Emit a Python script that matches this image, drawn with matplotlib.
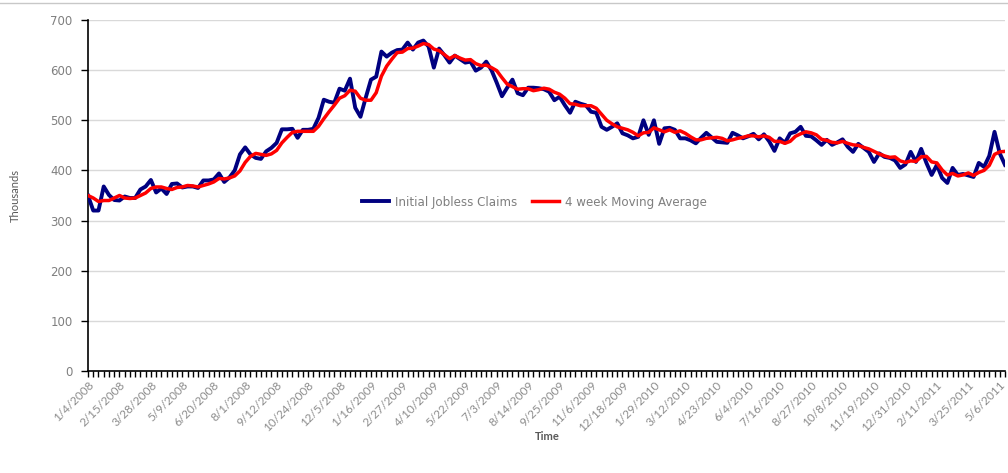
import matplotlib
matplotlib.use("Agg")
import matplotlib.pyplot as plt
import matplotlib.transforms as mtransforms
from matplotlib.ticker import MultipleLocator, FixedLocator
from matplotlib.lines import Line2D

tick_labels = ["1/4/2008", "2/15/2008", "3/28/2008", "5/9/2008", "6/20/2008", "8/1/2008",
               "9/12/2008", "10/24/2008", "12/5/2008", "1/16/2009", "2/27/2009", "4/10/2009",
               "5/22/2009", "7/3/2009", "8/14/2009", "9/25/2009", "11/6/2009", "12/18/2009",
               "1/29/2010", "3/12/2010", "4/23/2010", "6/4/2010", "7/16/2010", "8/27/2010",
               "10/8/2010", "11/19/2010", "12/31/2010", "2/11/2011", "3/25/2011", "5/6/2011"]

claims = [350, 320, 320, 368, 351, 341, 340, 348, 345, 345,
          362, 368, 381, 356, 364, 353, 373, 374, 366, 368,
          368, 365, 380, 380, 382, 394, 377, 386, 400, 432,
          446, 432, 425, 423, 438, 445, 455, 482, 482, 483,
          465, 481, 481, 483, 505, 541, 537, 535, 563, 559,
          583, 525, 507, 545, 581, 587, 637, 627, 635, 640,
          641, 655, 641, 655, 659, 647, 605, 643, 630, 615,
          629, 622, 615, 617, 599, 605, 617, 600, 575, 548,
          565, 581, 554, 550, 565, 565, 564, 562, 557, 540,
          547, 530, 515, 537, 533, 530, 517, 515, 487, 481,
          487, 494, 474, 470, 464, 467, 500, 471, 500, 453,
          484, 485, 481, 464, 464, 460, 454, 465, 475, 466,
          457, 456, 455, 475, 470, 464, 468, 473, 462, 472,
          458, 439, 464, 455, 474, 477, 487, 469, 468, 460,
          451, 461, 451, 456, 462, 447, 437, 453, 445, 437,
          417, 434, 427, 425, 420, 405, 412, 437, 417, 443,
          415, 391, 411, 385, 375, 405, 391, 393, 390, 387,
          415, 407, 429, 477, 434, 411]

moving_avg = [350, 345, 338, 340, 340, 345, 350, 345, 344, 345,
              350, 355, 364, 367, 367, 364, 362, 366, 367, 370,
              369, 367, 370, 373, 377, 384, 383, 385, 389, 399,
              416, 428, 434, 432, 430, 433, 440, 455, 466, 476,
              478, 478, 478, 478, 488, 503, 517, 530, 544, 549,
              560, 558, 544, 540, 540, 555, 588, 608, 622, 635,
              636, 643, 644, 648, 653, 651, 642, 639, 631, 623,
              629, 624, 620, 621, 613, 609, 610, 605, 599, 585,
              572, 567, 562, 563, 563, 559, 561, 564, 562, 556,
              552, 544, 533, 532, 529, 529, 529, 524, 512, 500,
              493, 487, 484, 481, 476, 469, 475, 476, 485, 481,
              477, 481, 476, 479, 474, 467, 461, 461, 464, 465,
              466, 464, 459, 461, 464, 466, 469, 469, 467, 469,
              466, 458, 458, 454, 458, 468, 473, 477, 475, 471,
              462, 460, 456, 455, 458, 454, 451, 450, 446, 443,
              438, 433, 429, 426, 427, 419, 416, 419, 418, 427,
              428, 417, 415, 401, 391, 394, 389, 391, 395, 390,
              396, 400, 410, 432, 437, 438]

W, H = 1008, 473
fig = plt.figure(figsize=(W / 100, H / 100), dpi=100)
ax = fig.add_axes([88 / W, 1 - 371 / H, (1005 - 88) / W, (371 - 20) / H])

x = list(range(len(claims)))
ax.plot(x, claims, color="#000080", lw=2.8, solid_joinstyle="round", zorder=3,
        label="Initial Jobless Claims")
ax.plot(x, moving_avg, color="#FF0000", lw=2.5, solid_joinstyle="round", zorder=4,
        label="4 week Moving Average")

ax.set_xlim(0, len(claims) - 1)
ax.set_ylim(0, 700)
ax.yaxis.set_major_locator(MultipleLocator(100))
ax.grid(axis="y", color="#D9D9D9", lw=1, zorder=0)
ax.set_axisbelow(True)

ax.xaxis.set_major_locator(FixedLocator([i * 6 for i in range(len(tick_labels))]))
ax.xaxis.set_minor_locator(MultipleLocator(1))
ax.set_xticklabels(tick_labels, rotation=45, ha="right", va="top", rotation_mode="anchor",
                   fontsize=8.5, color="#8C8C8C", family="Lato")
shift = mtransforms.ScaledTranslation(-5 / 100, -4 / 100, fig.dpi_scale_trans)
for lab in ax.get_xticklabels():
    lab.set_transform(lab.get_transform() + shift)
ax.tick_params(axis="x", which="both", length=4, width=1, color="black", direction="out", pad=2)
ax.tick_params(axis="y", length=5, width=1, color="black", labelsize=8.5, labelcolor="#7F7F7F", pad=6)

for s in ["top", "right"]:
    ax.spines[s].set_visible(False)
for s in ["left", "bottom"]:
    ax.spines[s].set_color("black")
    ax.spines[s].set_linewidth(1.2)

ax.set_ylabel("Thousands", fontsize=8, color="#595959", family="Lato")
ax.yaxis.set_label_coords((21 - 88) / 917, 0.5)
ax.set_xlabel("Time", fontsize=8, color="#595959", family="Lato", fontweight="bold")
ax.xaxis.set_label_coords((547 - 88) / 917, (371 - 431) / 351)

leg = ax.legend(loc="center", bbox_to_anchor=(0.487, 0.481), ncol=2, frameon=False,
                fontsize=8.6, handlelength=2.3, columnspacing=1.2, handletextpad=0.5)
for t in leg.get_texts():
    t.set_color("#7F7F7F")

fig.add_artist(Line2D([0, 1], [1 - 3 / H, 1 - 3 / H], color="#C8C8C8", lw=1))

fig.savefig("out.png", dpi=100)
